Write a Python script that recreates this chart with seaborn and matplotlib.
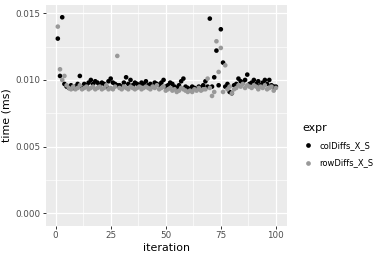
import numpy as np
import pandas as pd
import matplotlib
matplotlib.use("Agg")
import matplotlib.pyplot as plt
from matplotlib.lines import Line2D
from matplotlib.ticker import MultipleLocator
import seaborn as sns

iteration = list(range(1, 101))

col_diffs = [
    0.0131, 0.0103, 0.0147, 0.0097, 0.0095, 0.0094, 0.0096, 0.0094, 0.0095, 0.0097,
    0.0103, 0.0094, 0.0097, 0.0096, 0.0098, 0.0100, 0.0097, 0.0099, 0.0098, 0.0096,
    0.0098, 0.0097, 0.0095, 0.0099, 0.0101, 0.0098, 0.0097, 0.0096, 0.0096, 0.0095,
    0.0098, 0.0102, 0.0097, 0.0100, 0.0096, 0.0098, 0.0097, 0.0096, 0.0098, 0.0097,
    0.0099, 0.0096, 0.0097, 0.0095, 0.0098, 0.0097, 0.0096, 0.0098, 0.0100, 0.0095,
    0.0096, 0.0098, 0.0097, 0.0095, 0.0094, 0.0096, 0.0099, 0.0101, 0.0095, 0.0094,
    0.0093, 0.0095, 0.0094, 0.0093, 0.0095, 0.0094, 0.0096, 0.0099, 0.0095, 0.0146,
    0.0095, 0.0102, 0.0122, 0.0096, 0.0138, 0.0113, 0.0095, 0.0097, 0.0091, 0.0090,
    0.0096, 0.0097, 0.0101, 0.0099, 0.0098, 0.0100, 0.0104, 0.0097, 0.0098, 0.0100,
    0.0097, 0.0099, 0.0096, 0.0098, 0.0100, 0.0097, 0.0100, 0.0096, 0.0095, 0.0095,
]

row_diffs = [
    0.0140, 0.0108, 0.0100, 0.0103, 0.0096, 0.0094, 0.0093, 0.0095, 0.0093, 0.0094,
    0.0096, 0.0093, 0.0094, 0.0095, 0.0093, 0.0094, 0.0095, 0.0093, 0.0094, 0.0095,
    0.0093, 0.0094, 0.0096, 0.0093, 0.0094, 0.0093, 0.0095, 0.0118, 0.0094, 0.0093,
    0.0095, 0.0094, 0.0093, 0.0095, 0.0094, 0.0093, 0.0094, 0.0095, 0.0093, 0.0094,
    0.0095, 0.0094, 0.0093, 0.0095, 0.0094, 0.0096, 0.0093, 0.0094, 0.0095, 0.0092,
    0.0093, 0.0094, 0.0092, 0.0093, 0.0091, 0.0092, 0.0094, 0.0093, 0.0092, 0.0091,
    0.0092, 0.0091, 0.0093, 0.0092, 0.0094, 0.0092, 0.0093, 0.0093, 0.0101, 0.0094,
    0.0088, 0.0091, 0.0129, 0.0106, 0.0124, 0.0091, 0.0111, 0.0093, 0.0095, 0.0090,
    0.0093, 0.0094, 0.0096, 0.0095, 0.0097, 0.0094, 0.0096, 0.0095, 0.0094, 0.0096,
    0.0095, 0.0093, 0.0095, 0.0094, 0.0096, 0.0093, 0.0094, 0.0095, 0.0092, 0.0094,
]

expr_names = ["colDiffs_X_S", "rowDiffs_X_S"]
x_ticks = [0, 25, 50, 75, 100]
y_ticks = [0.000, 0.005, 0.010, 0.015]
y_tick_labels = ["0.000", "0.005", "0.010", "0.015"]

df = pd.DataFrame({
    "iteration": iteration * 2,
    "time": col_diffs + row_diffs,
    "expr": [expr_names[0]] * len(iteration) + [expr_names[1]] * len(iteration),
})

palette = {expr_names[0]: "#000000", expr_names[1]: "#999999"}

fig = plt.figure(figsize=(3.9, 2.6), dpi=100)
ax = fig.add_axes([45.7 / 390, 1 - 225.7 / 260, 241 / 390, 220.7 / 260])
ax.set_facecolor("#EBEBEB")

sns.scatterplot(data=df, x="iteration", y="time", hue="expr", palette=palette,
                s=11, marker="o", linewidth=0, edgecolor=None, ax=ax, legend=False,
                zorder=3)

ax.set_xlim(-4.5, 104.9)
ax.set_ylim(-0.00093, 0.01562)
ax.set_xticks(x_ticks)
ax.set_xticklabels([str(t) for t in x_ticks])
ax.set_yticks(y_ticks)
ax.set_yticklabels(y_tick_labels)
ax.xaxis.set_minor_locator(MultipleLocator(12.5))
ax.yaxis.set_minor_locator(MultipleLocator(0.0025))
ax.grid(which="major", color="white", linewidth=0.9, zorder=0)
ax.grid(which="minor", color="white", linewidth=0.45, zorder=0)
ax.set_axisbelow(True)
for sp in ax.spines.values():
    sp.set_visible(False)
ax.tick_params(which="major", length=2.5, width=0.7, color="#333333",
               labelsize=6.3, labelcolor="#4D4D4D", pad=1.5)
ax.tick_params(which="minor", length=0)
ax.set_xlabel("iteration", fontsize=7.9, color="black", labelpad=2)
ax.set_ylabel("time (ms)", fontsize=7.9, color="black", labelpad=2.5)

handles = [Line2D([0], [0], marker="o", linestyle="", markersize=3.4,
                  markerfacecolor=palette[n], markeredgewidth=0) for n in expr_names]
leg = fig.legend(handles, expr_names, title="expr", loc="upper left",
                 bbox_to_anchor=(297 / 390, 1 - 117 / 260), frameon=False,
                 fontsize=6.0, title_fontsize=7.9, handlelength=1.2,
                 handletextpad=0.8, labelspacing=1.0, borderpad=0.2)
leg._legend_box.align = "left"

fig.savefig("out.png", dpi=100)
